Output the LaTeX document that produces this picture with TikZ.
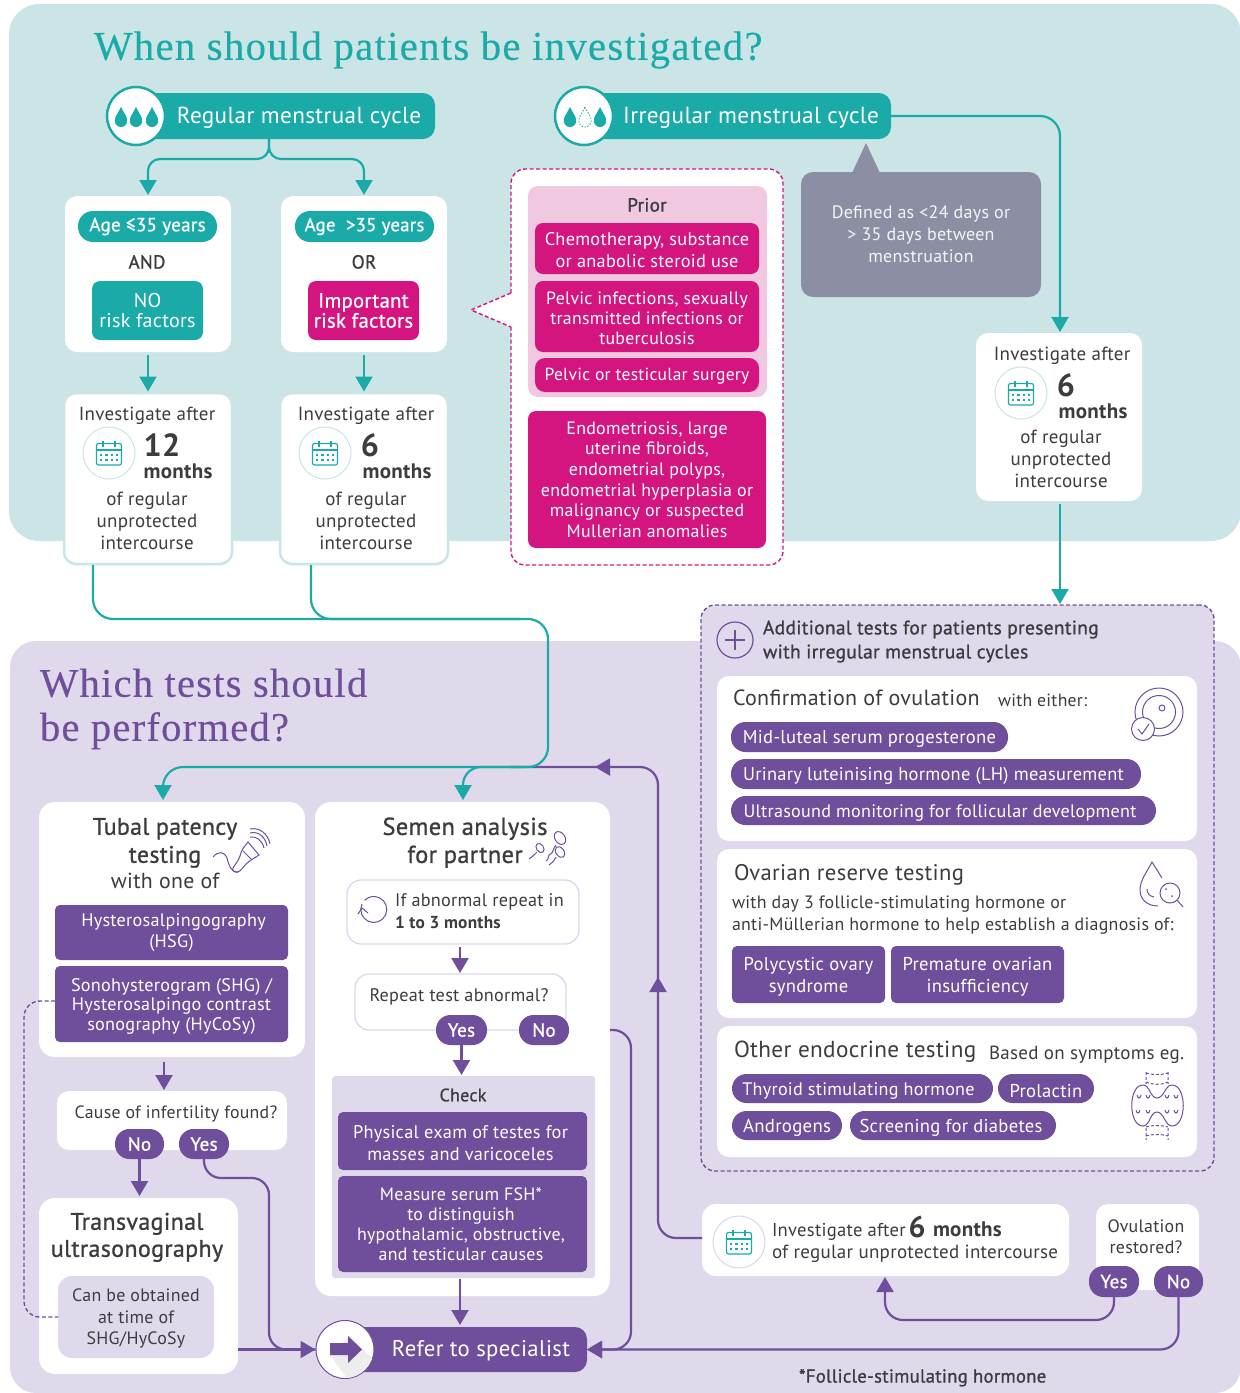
\documentclass[tikz,border=0pt]{standalone}
\usepackage{fontspec}
\setmainfont{PT Sans}[LetterSpace=1.5]
\newfontfamily\medf{PT Sans}[LetterSpace=1.5,FakeBold=1]
\newfontfamily\headf{Liberation Serif}[LetterSpace=3,FakeBold=0.25]
\usetikzlibrary{arrows.meta,calc}
\definecolor{tealc}{HTML}{1AABA9}
\definecolor{tealbg}{HTML}{CBE5E7}
\definecolor{mag}{HTML}{D4147F}
\definecolor{magbg}{HTML}{F0C8DF}
\definecolor{purp}{HTML}{6F4E9C}
\definecolor{purpbg}{HTML}{E0D9EC}
\definecolor{purpl}{HTML}{DDD6EA}
\definecolor{greyb}{HTML}{8C8FA3}
\definecolor{ink}{HTML}{3C3C3F}
\newcommand{\fs}[2]{\fontsize{#1}{#2}\selectfont}
\newcommand{\up}{\rule{0pt}{17.5pt}}
\newcommand{\bx}[7]{\pgfmathsetmacro\cx{(#2+#4)/2}\pgfmathsetmacro\cy{(#3+#5)/2}\pgfmathsetmacro\ww{#4-#2}\pgfmathsetmacro\hh{#5-#3}\node[bxbase,#6,minimum width=\ww pt,minimum height=\hh pt] (#1) at (\cx,\cy) {#7};}
\newcommand{\lbl}[6]{\node[lblbase,anchor=#4,font=#5,yshift=-1.8pt] (#1) at (#2,#3) {\vphantom{Ag}#6};}
\newcommand{\dropic}[3]{\path[#3,shift={(#1,#2)}] (0,-10) .. controls (2,-5) and (6.2,-1) .. (6.2,3.5) .. controls (6.2,7.5) and (3.4,10) .. (0,10) .. controls (-3.4,10) and (-6.2,7.5) .. (-6.2,3.5) .. controls (-6.2,-1) and (-2,-5) .. cycle;}
\newcommand{\calic}[3]{\begin{scope}[shift={(#1,#2)}]
\node[circle,draw=#3,fill=white,line width=1pt,minimum size=52pt,inner sep=0] at (0,0) {};
\draw[tealc,line width=1.2pt,rounded corners=2pt] (-12.5,-9.5) rectangle (12.5,12);
\draw[tealc,line width=1.2pt] (-12.5,-3) -- (12.5,-3) (-6,-12.5) -- (-6,-6.5) (6,-12.5) -- (6,-6.5);
\foreach \a in {-8,-2.7,2.7,8}{\fill[tealc] (\a-1.2,1) rectangle (\a+1.2,2.5);\fill[tealc] (\a-1.2,6) rectangle (\a+1.2,7.5);}
\end{scope}}
\tikzset{
 bxbase/.style={inner sep=0,outer sep=0,align=center,rounded corners=8pt,text=ink},
 lblbase/.style={inner sep=0,outer sep=0,text=ink},
 card/.style={fill=white,rounded corners=12pt},
 tealbox/.style={fill=tealc,text=white},
 magbox/.style={fill=mag,text=white},
 purpbox/.style={fill=purp,text=white},
 pillp/.style={fill=purp,text=white,rounded corners=14.5pt},
 tl/.style={draw=tealc,line width=2.2pt},
 pl/.style={draw=purp,line width=2.2pt},
 tt/.style={-{Triangle[length=15pt,width=17pt]}},
 iconl/.style={draw=purp,line width=1pt,fill=none},
}
\begin{document}
\begin{tikzpicture}[x=1pt,y=-1pt,line cap=butt]
\useasboundingbox (0,0) rectangle (1240,1393);
% panels
\fill[tealbg,rounded corners=30pt] (9,4) rectangle (1241,541);
\fill[purpbg,rounded corners=26pt] (10,641) rectangle (1241,1393);
\node[lblbase,anchor=west,font=\headf\fs{40.9}{42},text=tealc] (title) at (94,50) {When should patients be investigated?};
\node[lblbase,anchor=west,align=left,font=\headf\fs{40.6}{44},text=purp] (title2) at (40,709) {Which tests should\\be performed?};

% regular / irregular
\bx{regp}{136}{93}{435}{139}{tealbox,rounded corners=12pt}{}
\node[circle,draw=tealc,fill=white,line width=2.5pt,minimum size=58pt,inner sep=0] (regc) at (136,116) {};
\dropic{121}{117}{fill=tealc}\dropic{136}{117}{fill=tealc}\dropic{152}{117}{fill=tealc}
\lbl{regt}{299}{116}{center}{\fs{23.2}{26}}{\textcolor{white}{Regular menstrual cycle}}
\bx{irp}{584}{93}{891}{139}{tealbox,rounded corners=12pt}{}
\node[circle,draw=tealc,fill=white,line width=2.5pt,minimum size=58pt,inner sep=0] (irc) at (584,116) {};
\dropic{570}{117}{fill=tealc}\dropic{585}{117}{draw=tealc,line width=.8pt,dash pattern=on 1.5pt off 1.5pt}\dropic{600}{117}{fill=tealc}
\lbl{irt}{751}{116}{center}{\fs{23.3}{26}}{\textcolor{white}{Irregular menstrual cycle}}

% age boxes
\bx{agel}{65}{196}{231}{352}{card}{}
\bx{ager}{281}{196}{447}{352}{card}{}
\bx{pl1}{78}{211}{217}{242}{tealbox,rounded corners=15pt,font=\medf\fs{19}{21}}{Age ≤35 years}
\bx{pl2}{295}{211}{434}{242}{tealbox,rounded corners=15pt,font=\medf\fs{18.7}{21}}{Age~~>35 years}
\lbl{and}{147}{262}{center}{\medf\fs{19}{21}}{AND}
\lbl{or}{364}{262}{center}{\medf\fs{19}{21}}{OR}
\bx{nor}{92}{281}{203}{340}{tealbox,font=\fs{20}{20}}{NO\\risk factors}
\bx{imp}{308}{281}{419}{340}{magbox,font=\medf\fs{20.6}{20}}{Important\\risk factors}

% investigate boxes
\bx{invl}{64}{393}{232}{564}{card,draw=tealbg,line width=2.5pt}{}
\bx{invr}{280}{393}{448}{564}{card,draw=tealbg,line width=2.5pt}{}
\lbl{i1}{147}{414}{center}{\fs{19}{21}}{Investigate after}
\calic{109}{453}{tealbg}
\lbl{i2}{162}{447}{center}{\bfseries\fs{32}{34}}{12}
\lbl{i3}{178}{472}{center}{\bfseries\fs{21}{23}}{months}
\node[lblbase,align=center,font=\fs{19}{22}] (i4) at (147,521) {of regular\\unprotected\\intercourse};
\lbl{j1}{366}{414}{center}{\fs{19}{21}}{Investigate after}
\calic{325}{453}{tealbg}
\lbl{j2}{370}{447}{center}{\bfseries\fs{32}{34}}{6}
\lbl{j3}{397}{472}{center}{\bfseries\fs{21}{23}}{months}
\node[lblbase,align=center,font=\fs{19}{22}] (j4) at (366,521) {of regular\\unprotected\\intercourse};

% risk callout
\path[draw=mag,fill=white,line width=1.4pt,dash pattern=on 4pt off 2.5pt,rounded corners=14pt] (511,293) -- (511,169) -- (783,169) -- (783,565) -- (511,565) -- (511,327);
\fill[white] (511,293) -- (471,310) -- (511,327) -- cycle;
\draw[mag,line width=1.4pt,dash pattern=on 4pt off 2.5pt] (511,293) -- (471,310) -- (511,327);
\bx{prig}{528}{186}{767}{397}{fill=magbg,rounded corners=10pt}{}
\lbl{prior}{647}{205}{center}{\medf\fs{19}{21}}{Prior}
\bx{r1}{535}{223}{759}{274}{magbox,font=\fs{18.3}{22}}{\rule{0pt}{16pt}Chemotherapy, substance\\or anabolic steroid use}
\bx{r2}{535}{281}{759}{352}{magbox,font=\fs{17.8}{20}}{\rule{0pt}{15.5pt}Pelvic infections, sexually\\transmitted infections or\\tuberculosis}
\bx{r3}{535}{358}{759}{392}{magbox,rounded corners=10pt,font=\fs{17.5}{20}}{\rule{0pt}{15pt}Pelvic or testicular surgery}
\bx{r4}{528}{411}{766}{548}{magbox,font=\fs{17.9}{20.6}}{Endometriosis, large\\uterine fibroids,\\endometrial polyps,\\endometrial hyperplasia or\\malignancy or suspected\\Mullerian anomalies}

% grey note
\fill[greyb] (852,173) -- (866,143) -- (880,173) -- cycle;
\bx{grey}{801}{172}{1041}{297}{fill=greyb,text=white!90!greyb,rounded corners=12pt,font=\fs{18}{22}}{\raisebox{13pt}{\parbox{230pt}{\centering Defined as <24 days or\\> 35 days between\\menstruation}}}

% investigate right
\bx{invi}{976}{333}{1142}{501}{card}{}
\lbl{k1}{1062}{354}{center}{\fs{19}{21}}{Investigate after}
\calic{1021}{393}{tealbg}
\lbl{k2}{1066}{387}{center}{\bfseries\fs{32}{34}}{6}
\lbl{k3}{1093}{412}{center}{\bfseries\fs{21}{23}}{months}
\node[lblbase,align=center,font=\fs{19}{22}] (k4) at (1061,459) {of regular\\unprotected\\intercourse};

% additional tests
\bx{addb}{701}{605}{1214}{1171}{draw=purp,fill=purpbg,line width=1.4pt,dash pattern=on 4pt off 2.5pt,rounded corners=14pt}{}
\node[circle,draw=purp,line width=1.2pt,minimum size=36pt,inner sep=0] (plus) at (735,640) {};
\draw[purp,line width=1.2pt] (725,640) -- (745,640) (735,630) -- (735,650);
\node[lblbase,anchor=west,align=left,font=\medf\fs{19.5}{24}] (addt) at (763,641.5) {Additional tests for patients presenting\\with irregular menstrual cycles};

\bx{c1}{717}{676}{1197}{841}{card}{}
\lbl{c1a}{733}{698}{west}{\fs{22}{25}}{Confirmation of ovulation}
\lbl{c1b}{998}{700}{west}{\fs{17.7}{21}}{with either:}
\bx{p1}{731}{722}{1008}{752}{pillp,font=\fs{18.6}{21}}{\up Mid-luteal serum progesterone}
\bx{p2}{731}{759}{1141}{789}{pillp,font=\fs{18.4}{21}}{\up\hspace*{-5pt}Urinary luteinising hormone (LH) measurement}
\bx{p3}{731}{796}{1156}{825}{pillp,font=\fs{18.1}{21}}{\up\hspace*{-7pt}Ultrasound monitoring for follicular development}

\bx{c2}{717}{849}{1197}{1018}{card}{}
\lbl{c2a}{734}{873}{west}{\fs{22.6}{25}}{Ovarian reserve testing}
\node[lblbase,anchor=west,align=left,font=\fs{17.9}{22}] (c2b) at (732,915) {with day 3 follicle-stimulating hormone or\\anti-Müllerian hormone to help establish a diagnosis of:};
\bx{o1}{732}{946}{885}{1003}{purpbox,rounded corners=5pt,font=\fs{18.6}{21.5}}{\up Polycystic ovary\\syndrome}
\bx{o2}{891}{946}{1064}{1003}{purpbox,rounded corners=5pt,font=\fs{18.6}{21.5}}{\up Premature ovarian\\insufficiency}

\bx{c3}{717}{1026}{1197}{1157}{card}{}
\lbl{c3a}{734}{1050}{west}{\fs{23.2}{25}}{Other endocrine testing}
\lbl{c3b}{989}{1053}{west}{\fs{19}{21}}{Based on symptoms eg.}
\bx{e1}{732}{1074}{993}{1103}{pillp,font=\fs{18.1}{21}}{\up\hspace*{-8pt}Thyroid stimulating hormone}
\bx{e2}{998}{1074}{1094}{1103}{pillp,font=\fs{18.6}{21}}{\up Prolactin}
\bx{e3}{732}{1111}{842}{1140}{pillp,font=\fs{18.8}{21}}{\up Androgens}
\bx{e4}{850}{1111}{1056}{1140}{pillp,font=\fs{18.6}{21}}{\up\hspace*{-4pt}Screening for diabetes}

% icons right
\begin{scope}[iconl]
\draw (1159,712) circle (24);
\draw (1159,712) circle (16.5);
\draw (1162,708) circle (3);
\draw[fill=white] (1143,729) circle (11.5);
\draw (1138,729) -- (1142,734) -- (1149,724);
% drop with magnifier
\draw (1162,878) -- (1152,862) .. controls (1147,872) and (1140,880) .. (1140,890) .. controls (1140,900) and (1148,906) .. (1158,906);
\draw (1147,889) .. controls (1147,893) and (1149,896) .. (1154,897);
\draw (1170,893) circle (10);
\draw (1177,900) -- (1183,907);
\fill[purp] (1166,889) circle (1) (1172,896) circle (1);
% thyroid
\draw (1143,1085) .. controls (1150,1085) and (1150,1098) .. (1157,1098) .. controls (1164,1098) and (1165,1085) .. (1172,1085) .. controls (1187,1085) and (1187,1126) .. (1172,1126) .. controls (1165,1126) and (1164,1112) .. (1157,1112) .. controls (1150,1112) and (1150,1126) .. (1143,1126) .. controls (1128,1126) and (1128,1085) .. cycle;
\draw[dash pattern=on 3pt off 2pt] (1146,1072) -- (1146,1084) (1168,1072) -- (1168,1084) (1146,1073) .. controls (1152,1075) and (1162,1075) .. (1168,1073) (1146,1082) .. controls (1152,1085) and (1162,1085) .. (1168,1082) (1146,1128) -- (1146,1140) (1168,1128) -- (1168,1140) (1146,1127) .. controls (1152,1125) and (1162,1125) .. (1168,1127) (1146,1136) .. controls (1152,1134) and (1162,1134) .. (1168,1136);
\foreach \a/\b in {1139/1095,1148/1095,1167/1095,1176/1095,1138/1110,1148/1110,1167/1110,1176/1110}{\draw (\a-2,\b) .. controls (\a-1,\b+4) and (\a+1,\b+4) .. (\a+2,\b);}
\end{scope}

% tubal
\bx{tub}{39}{802}{305}{1057}{card,rounded corners=16pt}{}
\lbl{t1}{165}{827}{center}{\medf\fs{23.8}{25}}{Tubal patency}
\lbl{t2}{165}{855}{center}{\medf\fs{23.8}{25}}{testing}
\lbl{t3}{165}{881}{center}{\fs{21.8}{23}}{with one of}
\bx{t4}{55}{905}{288}{960}{purpbox,rounded corners=5pt,font=\fs{18.2}{21.5}}{\hspace*{4pt}Hysterosalpingography\\(HSG)}
\bx{t5}{55}{966}{288}{1042}{purpbox,rounded corners=5pt,font=\fs{18.2}{19.5}}{\rule{0pt}{17.5pt}Sonohysterogram (SHG) /\\Hysterosalpingo contrast\\sonography (HyCoSy)}
\begin{scope}[iconl]
\draw (213,857) .. controls (218,851) and (224,851) .. (227,858) .. controls (229,866) and (231,872) .. (238,872);
\draw (233,868) .. controls (235,864) and (238,862) .. (240,856) .. controls (241,850) and (245,846) .. (248,842) -- (259,855) .. controls (255,858) and (250,860) .. (246,864) .. controls (243,868) and (240,871) .. (238,872) .. controls (235,873) and (232,871) .. (233,868) -- cycle;
\draw (243,851) -- (252,860);
\draw (250,837) .. controls (256,836) and (262,840) .. (264,848);
\draw (250,833) .. controls (258,831) and (265,836) .. (267,846);
\draw (250,829) .. controls (260,827) and (268,834) .. (270,844);
\end{scope}

\bx{cause}{57}{1091}{287}{1150}{card}{}
\lbl{ct}{176}{1112}{center}{\fs{17.8}{21}}{Cause of infertility found?}
\bx{tno}{115}{1129}{164}{1159}{pillp,font=\medf\fs{19}{21}}{No}
\bx{tyes}{179}{1129}{229}{1159}{pillp,font=\medf\fs{19}{21}}{Yes}
\bx{tv}{39}{1198}{238}{1374}{card,rounded corners=16pt}{}
\lbl{tv1}{137}{1222}{center}{\medf\fs{24}{26}}{Transvaginal}
\lbl{tv2}{137}{1249}{center}{\medf\fs{24}{26}}{ultrasonography}
\bx{can}{58}{1276}{214}{1358}{fill=purpbg,rounded corners=14pt,font=\fs{17.9}{21.5}}{\rule{0pt}{16pt}Can be obtained\\at time of\\SHG/HyCoSy}

% semen
\bx{sem}{315}{802}{610}{1296}{card,rounded corners=16pt}{}
\lbl{s1}{465}{827}{center}{\medf\fs{24.4}{25}}{Semen analysis}
\lbl{s2}{465}{855}{center}{\medf\fs{24.4}{25}}{for partner}
\begin{scope}[iconl]
\draw[rotate around={35:(560,838)}] (560,838) ellipse (5 and 7);
\draw (556,845) .. controls (552,850) and (554,853) .. (549,855) .. controls (547,857) and (550,858) .. (546,861);
\draw[rotate around={35:(560,852)}] (560,852) ellipse (4 and 6);
\draw (556,857) .. controls (555,860) and (553,862) .. (549,865);
\draw[rotate around={35:(540,848)}] (540,848) ellipse (3.5 and 5);
\draw (537,852) .. controls (534,855) and (532,857) .. (529,859);
\end{scope}
\bx{rep}{347}{880}{579}{944}{fill=white,draw=purpl,line width=1.3pt,rounded corners=14pt}{}
\draw[purp,line width=1pt] (362,904) arc[start angle=205,end angle=-135,radius=13];
\draw[purp,line width=1pt] (358,914) -- (362,908) -- (368,913);
\lbl{rp1}{395}{900}{west}{\fs{18.2}{21}}{If abnormal repeat in}
\lbl{rp2}{395}{922}{west}{\bfseries\fs{17.3}{21}}{1 to 3 months}
\bx{rpt}{355}{974}{566}{1030}{fill=white,draw=purpl,line width=1.3pt,rounded corners=14pt}{}
\lbl{rpt1}{459}{995}{center}{\fs{18.2}{21}}{Repeat test abnormal?}
\bx{syes}{436}{1015}{487}{1045}{pillp,font=\medf\fs{19}{21}}{Yes}
\bx{sno}{519}{1015}{569}{1045}{pillp,font=\medf\fs{19}{21}}{No}
\bx{chk}{332}{1076}{595}{1278}{fill=purpbg,rounded corners=3pt}{}
\lbl{chk1}{463}{1095}{center}{\medf\fs{18}{21}}{Check}
\bx{ch1}{338}{1112}{587}{1170}{purpbox,rounded corners=5pt,font=\fs{18.3}{22}}{\rule{0pt}{17pt}\hspace*{-4pt}Physical exam of testes for\\\hspace*{-4pt}masses and varicoceles}
\bx{ch2}{338}{1176}{587}{1272}{purpbox,rounded corners=5pt,font=\fs{17.9}{20}}{\hspace*{-3pt}Measure serum FSH*\\\hspace*{-3pt}to distinguish\\\hspace*{-3pt}hypothalamic, obstructive,\\\hspace*{-3pt}and testicular causes}

% refer
\bx{refp}{345}{1327}{587}{1372}{purpbox,rounded corners=12pt}{}
\begin{scope}
\node[circle,draw=purp,fill=white,line width=1pt,minimum size=58pt,inner sep=0] (refc) at (345,1349.5) {};
\clip (345,1349.5) circle (28.5);
\fill[black!7] (330,1355) -- (350,1336) -- (380,1366) -- (356,1390) -- cycle;
\end{scope}
\fill[purp] (330,1343) -- (348,1343) -- (348,1336) -- (362,1349.5) -- (348,1363) -- (348,1355) -- (330,1355) -- cycle;
\lbl{reft}{481}{1349}{center}{\fs{22.7}{26}}{\textcolor{white}{Refer to specialist}}

% bottom right
\bx{invb}{702}{1204}{1069}{1276}{card,rounded corners=14pt}{}
\calic{739}{1242}{purpl}
\lbl{b1}{772}{1230}{west}{\fs{18.6}{21}}{Investigate after}
\lbl{b2}{917}{1228}{center}{\bfseries\fs{30}{32}}{6}
\lbl{b3}{933}{1230}{west}{\bfseries\fs{21}{23}}{months}
\lbl{b4}{772}{1252}{west}{\fs{19}{21}}{of regular unprotected intercourse}
\bx{ov}{1096}{1204}{1199}{1290}{card}{}
\node[lblbase,align=center,font=\fs{17.9}{21.5}] (ovt) at (1146,1236.5) {Ovulation\\restored?};
\bx{ovy}{1089}{1266}{1139}{1297}{pillp,font=\medf\fs{19}{21}}{Yes}
\bx{ovn}{1154}{1266}{1203}{1297}{pillp,font=\medf\fs{19}{21}}{No}
\lbl{foot}{799}{1376}{west}{\medf\fs{18.7}{21}}{*Follicle-stimulating hormone}

% connector coordinates
\coordinate (regout) at (269,139);
\coordinate (regsplit) at (269,159);
\coordinate (a1) at (93,565);
\coordinate (b1) at (311,565);
\coordinate (tr) at (548,619);
\coordinate (tr2) at (520,619);
\coordinate (br) at (548,767);
\coordinate (br2) at (522,767);
\coordinate (tubin) at (163,800);
\coordinate (semin) at (463,800);
\coordinate (irc1) at (1060,116);
\coordinate (d1) at (55,1001);
\coordinate (d2) at (24,1150);
\coordinate (tj) at (269,1178);
\coordinate (tvout) at (238,1349.5);
\coordinate (pstart) at (702,1238);
\coordinate (pr) at (658,767);
\coordinate (pend) at (510,767);
\coordinate (ptip) at (595,767);
\coordinate (pbase) at (612,767);
\coordinate (utip) at (658,977);
\coordinate (ubase) at (658,995);
\coordinate (rj) at (631,1349.5);
\coordinate (yc) at (885,1320);
\coordinate (arr1) at (164,1062);
\coordinate (arr2) at (164,1091);
\coordinate (arr3) at (460,1279);
\coordinate (arr4) at (460,1327);
\coordinate (arr5) at (460,947);
\coordinate (arr6) at (460,974);

% purple connector under teal
\draw[pl,rounded corners=18pt] (pstart) -| (pr) -- (pend);
\draw[pl,tt] (ubase) -- (utip);
\draw[pl,tt] (pbase) -- (ptip);
% teal connectors
\draw[tl,tt,rounded corners=12pt,shorten >=1pt] (regout) -- (regsplit) -| (agel.north);
\draw[tl,tt,rounded corners=12pt,shorten >=1pt] (regout) -- (regsplit) -| (ager.north);
\draw[tl,tt,shorten <=3pt,shorten >=1.5pt] (agel.south) -- (invl.north);
\draw[tl,tt,shorten <=3pt,shorten >=1.5pt] (ager.south) -- (invr.north);
\draw[tl,tt,rounded corners=20pt,shorten >=1pt] (irp.east) -- (irc1) -- (invi.north -| irc1);
\draw[tl,tt,shorten <=3pt,shorten >=1pt] (invi.south -| irc1) -- (addb.north -| irc1);
\draw[tl,tt,rounded corners=20pt] (a1) |- (tr) -- (br) -| (tubin);
\draw[tl,rounded corners=20pt] (b1) |- (tr2);
\draw[tl,tt,rounded corners=18pt] (br2) -| (semin);

% purple connectors
\draw[pl,tt,shorten >=1pt] (arr1) -- (arr2);
\draw[pl,tt,shorten >=2pt] (tno.south) -- (tv.north -| tno);
\draw[pl,rounded corners=17pt] (tyes.south) |- (tj) |- (refc.west);
\draw[pl,tt,shorten >=0pt] (tvout) -- (refc.west);
\draw[purp,line width=1.4pt,dash pattern=on 4pt off 2.5pt,rounded corners=16pt] (d1) -| (d2) |- (can.west);
\draw[pl,tt,shorten >=1pt] (arr5) -- (arr6);
\draw[pl,tt,shorten >=1pt] (syes.south) -- (chk.north -| syes);
\draw[pl,tt,shorten >=2pt] (arr3) -- (arr4);
\draw[pl,tt,rounded corners=18pt] (sem.east |- sno.east) -| (rj) -- (refp.east);
\draw[pl,tt,rounded corners=18pt] (ovn.south) |- (refp.east);
\draw[pl,tt,rounded corners=18pt,shorten >=1pt] (ovy.south) |- (yc) -- (invb.south -| yc);
\end{tikzpicture}
\end{document}
